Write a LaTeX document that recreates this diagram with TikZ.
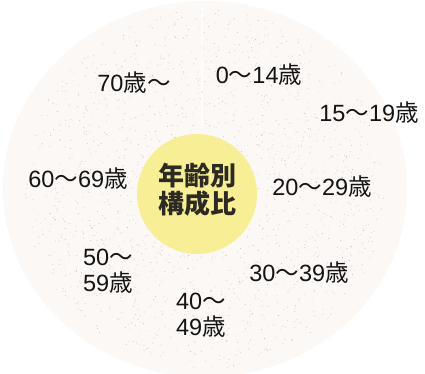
\documentclass[tikz,border=0pt]{standalone}
\usepackage{fontspec}
\setmainfont{Liberation Sans}
\newfontfamily\jp{Noto Sans CJK JP}
\definecolor{bgdisk}{RGB}{252,248,245}
\definecolor{speck}{RGB}{200,150,155}
\definecolor{yelc}{RGB}{248,238,150}
\definecolor{yeledge}{RGB}{250,245,190}
\definecolor{txt}{RGB}{20,20,20}
\definecolor{ctxt}{RGB}{45,42,35}
\newcommand{\jw}[1]{{\jp #1}}
\pgfdeclareradialshading{diskfade}{\pgfpoint{0bp}{0bp}}{color(0bp)=(bgdisk); color(45bp)=(bgdisk); color(50bp)=(white)}
\pgfdeclareradialshading{glow}{\pgfpoint{0bp}{0bp}}{color(0bp)=(yelc); color(34bp)=(yelc); color(43bp)=(yeledge); color(50bp)=(bgdisk)}
\tikzset{
  lbl/.style={font=\fontsize{23.5}{26}\selectfont, text=txt, inner sep=0pt, align=left},
  ctr/.style={font=\jp\bfseries\fontsize{26}{28}\selectfont, text=ctxt, inner sep=0pt, align=center}
}
\begin{document}
\begin{tikzpicture}[x=1pt,y=-1pt]
\useasboundingbox (0,0) rectangle (425,374);
\fill[white] (0,0) rectangle (425,374);
\shade[shading=diskfade] (205,189) ellipse [x radius=202, y radius=188];
\draw[white, line width=1.5pt, opacity=0.8] (202,6) -- (202,128);
\pgfmathsetseed{7}
\foreach \i in {1,...,1800}{
  \pgfmathsetmacro\rr{180*sqrt(rnd)}
  \pgfmathsetmacro\aa{360*rnd}
  \pgfmathsetmacro\oo{0.25+0.55*rnd}
  \fill[speck, opacity=\oo] ([shift={(205,189)}]\aa:\rr) circle (0.5);
}
\shade[shading=glow] (197,194) circle (60);
\node[ctr] (c) at (197,190) {年齢別\\構成比};
\node[lbl] (t70) at (134,83) {70\jw{歳〜}};
\node[lbl] (t0) at (259,75) {0\jw{〜}14\jw{歳}};
\node[lbl] (t15) at (369,113) {15\jw{〜}19\jw{歳}};
\node[lbl] (t60) at (78,179) {60\jw{〜}69\jw{歳}};
\node[lbl] (t20) at (322,187) {20\jw{〜}29\jw{歳}};
\node[lbl] (t50) at (108,271) {50\jw{〜}\\59\jw{歳}};
\node[lbl] (t30) at (299,273) {30\jw{〜}39\jw{歳}};
\node[lbl] (t40) at (201,315) {40\jw{〜}\\49\jw{歳}};
\end{tikzpicture}
\end{document}
